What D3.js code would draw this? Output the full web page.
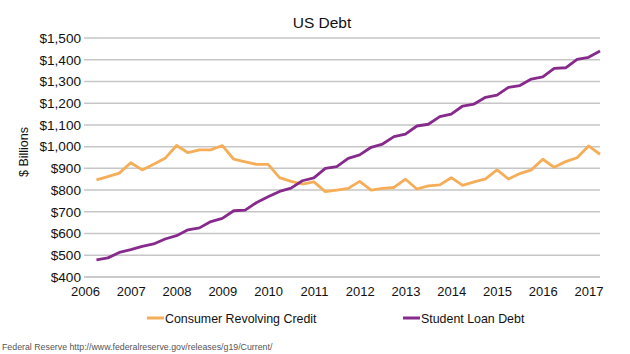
<!DOCTYPE html>
<html>
<head>
<meta charset="utf-8">
<script src="https://cdn.jsdelivr.net/npm/d3@7"></script>
<style>
  body { margin: 0; background: #fff; }
  text { font-family: "Liberation Sans", Arial, sans-serif; }
</style>
</head>
<body>
<div id="chart"></div>
<script>
// quarterly, 2006 Q2 .. 2017 Q2
const startYear = 2006.25;
const consumerCredit = [847, 862, 878, 926, 893, 919, 946, 1005, 972, 985, 985, 1005,
  942, 930, 918, 918, 857, 840, 828, 838, 793, 800, 808, 840,
  800, 808, 812, 850, 805, 819, 824, 857, 822, 838, 852, 893,
  851, 876, 893, 942, 905, 931, 949, 1003, 965];
const studentLoans = [479, 488, 513, 526, 541, 552, 575, 590, 617, 626, 655, 670,
  705, 708, 743, 769, 794, 809, 843, 856, 900, 908, 946, 962,
  997, 1012, 1046, 1058, 1095, 1103, 1138, 1150, 1187, 1196, 1227, 1237,
  1273, 1281, 1311, 1321, 1360, 1363, 1402, 1411, 1440];
const yTicks = [400, 500, 600, 700, 800, 900, 1000, 1100, 1200, 1300, 1400, 1500];
const xTicks = [2006, 2007, 2008, 2009, 2010, 2011, 2012, 2013, 2014, 2015, 2016, 2017];
const seriesNames = ["Consumer Revolving Credit", "Student Loan Debt"];
const colors = ["#f5ae57", "#862a8b"];

const W = 630, H = 354;
const margin = {top: 38, right: 30, bottom: 77, left: 85};

const svg = d3.select("#chart").append("svg")
    .attr("width", W).attr("height", H);

const x = d3.scaleLinear()
    .domain([2006, 2017.25])
    .range([margin.left, W - margin.right]);
const y = d3.scaleLinear()
    .domain([400, 1500])
    .range([H - margin.bottom, margin.top]);

// gridlines
svg.append("g")
    .selectAll("line")
    .data(yTicks)
    .enter().append("line")
    .attr("x1", x(2006) - 1).attr("x2", x(2017.25))
    .attr("y1", d => y(d)).attr("y2", d => y(d))
    .attr("stroke", d => d === 400 ? "#b8b8b8" : "#c6c6c6")
    .attr("stroke-width", 1.5);

// y axis labels
const yAxis = svg.append("g")
    .attr("transform", "translate(" + (margin.left - 1) + ",0)")
    .call(d3.axisLeft(y).tickValues(yTicks).tickSize(0).tickPadding(3)
        .tickFormat(d => "$" + d3.format(",")(d)));
yAxis.select(".domain").remove();
yAxis.selectAll("text").attr("font-size", 13.6).attr("fill", "#111")
    .style("font-family", "Liberation Sans, Arial, sans-serif");

// x axis labels
const xAxis = svg.append("g")
    .attr("transform", "translate(0," + (H - margin.bottom) + ")")
    .call(d3.axisBottom(x).tickValues(xTicks).tickSize(0).tickPadding(10)
        .tickFormat(d3.format("d")));
xAxis.select(".domain").remove();
xAxis.selectAll("text").attr("font-size", 13).attr("fill", "#111")
    .style("font-family", "Liberation Sans, Arial, sans-serif");

// lines
const line = d3.line()
    .x((d, i) => x(startYear + i * 0.25))
    .y(d => y(d));

[consumerCredit, studentLoans].forEach((s, k) => {
  svg.append("path")
      .datum(s)
      .attr("d", line)
      .attr("fill", "none")
      .attr("stroke", colors[k])
      .attr("stroke-width", 2.8)
      .attr("stroke-linejoin", "round");
});

// title
svg.append("text")
    .attr("x", 322).attr("y", 28)
    .attr("text-anchor", "middle")
    .attr("font-size", 15.5)
    .attr("fill", "#111")
    .text("US Debt");

// y label
svg.append("text")
    .attr("transform", "translate(28,152) rotate(-90)")
    .attr("text-anchor", "middle")
    .attr("font-size", 12.5)
    .attr("fill", "#111")
    .text("$ Billions");

// legend
const legendX = [147, 403];
seriesNames.forEach((name, k) => {
  const g = svg.append("g").attr("transform", "translate(" + legendX[k] + ",318)");
  g.append("line").attr("x1", 0).attr("x2", 17).attr("y1", 0).attr("y2", 0)
      .attr("stroke", colors[k]).attr("stroke-width", 3);
  g.append("text").attr("x", 18).attr("y", 4.5)
      .attr("font-size", 12.4).attr("fill", "#111")
      .text(name);
});

// source
svg.append("text")
    .attr("x", 2).attr("y", 350)
    .attr("font-size", 8.8)
    .attr("fill", "#555")
    .text("Federal Reserve http://www.federalreserve.gov/releases/g19/Current/");
</script>
</body>
</html>
